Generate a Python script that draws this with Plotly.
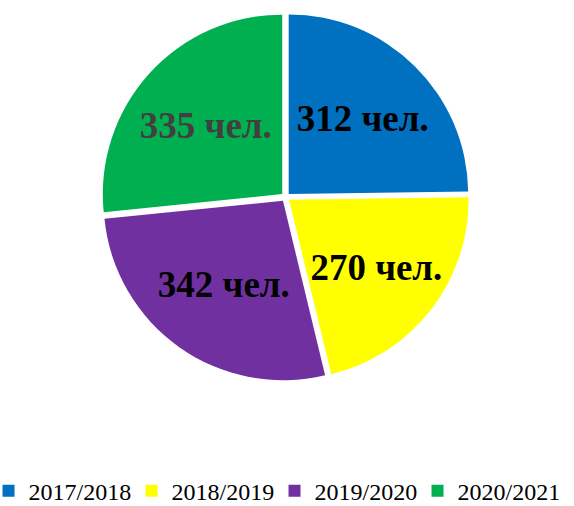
import plotly.graph_objects as go

years = ["2017/2018", "2018/2019", "2019/2020", "2020/2021"]
students = [312, 270, 342, 335]
colors = ["#0070C0", "#FFFF00", "#7030A0", "#00B050"]
label_colors = ["#000000", "#000000", "#000000", "#404040"]

fig = go.Figure(go.Pie(
    labels=years,
    values=students,
    sort=False,
    direction="clockwise",
    rotation=0,
    marker=dict(colors=colors, line=dict(color="white", width=0)),
    pull=[0.025, 0.025, 0.025, 0.025],
    texttemplate="%{value} чел.",
    textposition="inside",
    insidetextorientation="horizontal",
    textfont=dict(family="Liberation Serif", size=37, color=label_colors, weight="bold"),
    hoverinfo="skip",
    domain=dict(x=[0.175, 0.820], y=[0.247, 0.974]),
))

fig.update_layout(
    width=574, height=506,
    margin=dict(l=0, r=0, t=0, b=0, autoexpand=False),
    paper_bgcolor="white",
    showlegend=True,
    legend=dict(
        orientation="h", x=-0.02, xanchor="left", y=-0.015, yanchor="bottom",
        font=dict(family="Liberation Serif", size=24, color="#000000"),
        itemwidth=30, tracegroupgap=0,
        entrywidth=98, entrywidthmode="pixels",
    ),
)

fig.write_html("out.html", config={"displayModeBar": False},
               post_script="document.body.style.margin='0';")
